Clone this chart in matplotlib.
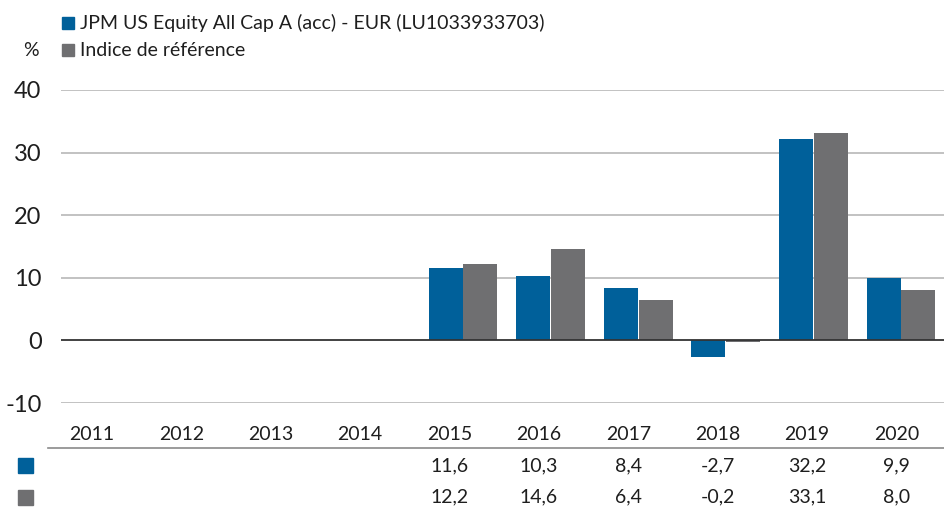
import matplotlib
matplotlib.use("Agg")
import matplotlib.pyplot as plt
from matplotlib.lines import Line2D
from matplotlib.patches import Rectangle
import numpy as np

plt.rcParams['font.family'] = ['Lato', 'DejaVu Sans']

# data
years = ['2011', '2012', '2013', '2014', '2015', '2016', '2017', '2018', '2019', '2020']
fund = [None, None, None, None, 11.6, 10.3, 8.4, -2.7, 32.2, 9.9]
bench = [None, None, None, None, 12.2, 14.6, 6.4, -0.2, 33.1, 8.0]
fund_name = 'JPM US Equity All Cap A (acc) - EUR (LU1033933703)'
bench_name = 'Indice de référence'
yticks = [-10, 0, 10, 20, 30, 40]

blue = '#00609A'
grey = '#6F6F71'
txt = '#1E1E1E'

W, H = 945, 507
fig = plt.figure(figsize=(W / 100, H / 100), dpi=100)

def fx(px):
    return px / W

def fy(py):
    return 1 - py / H

# main plot area in pixels
left, right, top, bottom = 61, 945, 90, 403
ax = fig.add_axes([fx(left), fy(bottom), fx(right - left), (bottom - top) / H])

x0, step = 112.6, 87.6
ax.set_xlim((left - x0) / step, (right - x0) / step)
ax.set_ylim(-10, 40)

x = np.arange(len(years))
w = 34 / step
fv = np.array([np.nan if v is None else v for v in fund])
bv = np.array([np.nan if v is None else v for v in bench])
ax.bar(x - w / 2 - 0.005, fv, width=w, color=blue, zorder=3)
ax.bar(x + w / 2 + 0.005, bv, width=w, color=grey, zorder=3)

for t in yticks:
    if t == 0:
        ax.axhline(t, color='#333333', lw=1.3, zorder=4)
    else:
        ax.axhline(t, color='#BDBDBD', lw=1.3, zorder=1)

for s in ax.spines.values():
    s.set_visible(False)
ax.set_xticks([])
ax.set_yticks(yticks)
ax.set_yticklabels([str(t) for t in yticks], fontsize=17, color=txt)
ax.tick_params(axis='y', length=0, pad=14)
ax.patch.set_alpha(0)

# legend
fig.add_artist(Rectangle((fx(62), fy(29)), fx(12), 12 / H, color=blue, transform=fig.transFigure))
fig.add_artist(Rectangle((fx(62), fy(56)), fx(12), 12 / H, color=grey, transform=fig.transFigure))
fig.text(fx(80), fy(23), fund_name, fontsize=14, va='center', ha='left', color=txt)
fig.text(fx(80), fy(50), bench_name, fontsize=14, va='center', ha='left', color=txt)
fig.text(fx(31), fy(50), '%', fontsize=14, va='center', ha='center', color=txt)

# table under the chart
tx0, tstep = 92, 89.4
for i, yr in enumerate(years):
    cx = fx(tx0 + i * tstep)
    fig.text(cx, fy(435), yr, fontsize=14, ha='center', va='center', color=txt)
    if fund[i] is not None:
        fig.text(cx, fy(466), f'{fund[i]:.1f}'.replace('.', ','), fontsize=14,
                 ha='center', va='center', color=txt)
    if bench[i] is not None:
        fig.text(cx, fy(497), f'{bench[i]:.1f}'.replace('.', ','), fontsize=14,
                 ha='center', va='center', color=txt)

fig.add_artist(Line2D([fx(48), fx(945)], [fy(448), fy(448)], color='#8A8A8A', lw=1.2,
                      transform=fig.transFigure))
fig.add_artist(Rectangle((fx(18), fy(473)), fx(15), 15 / H, color=blue, transform=fig.transFigure))
fig.add_artist(Rectangle((fx(18), fy(505)), fx(15), 15 / H, color=grey, transform=fig.transFigure))

fig.savefig('out.png', dpi=100)
